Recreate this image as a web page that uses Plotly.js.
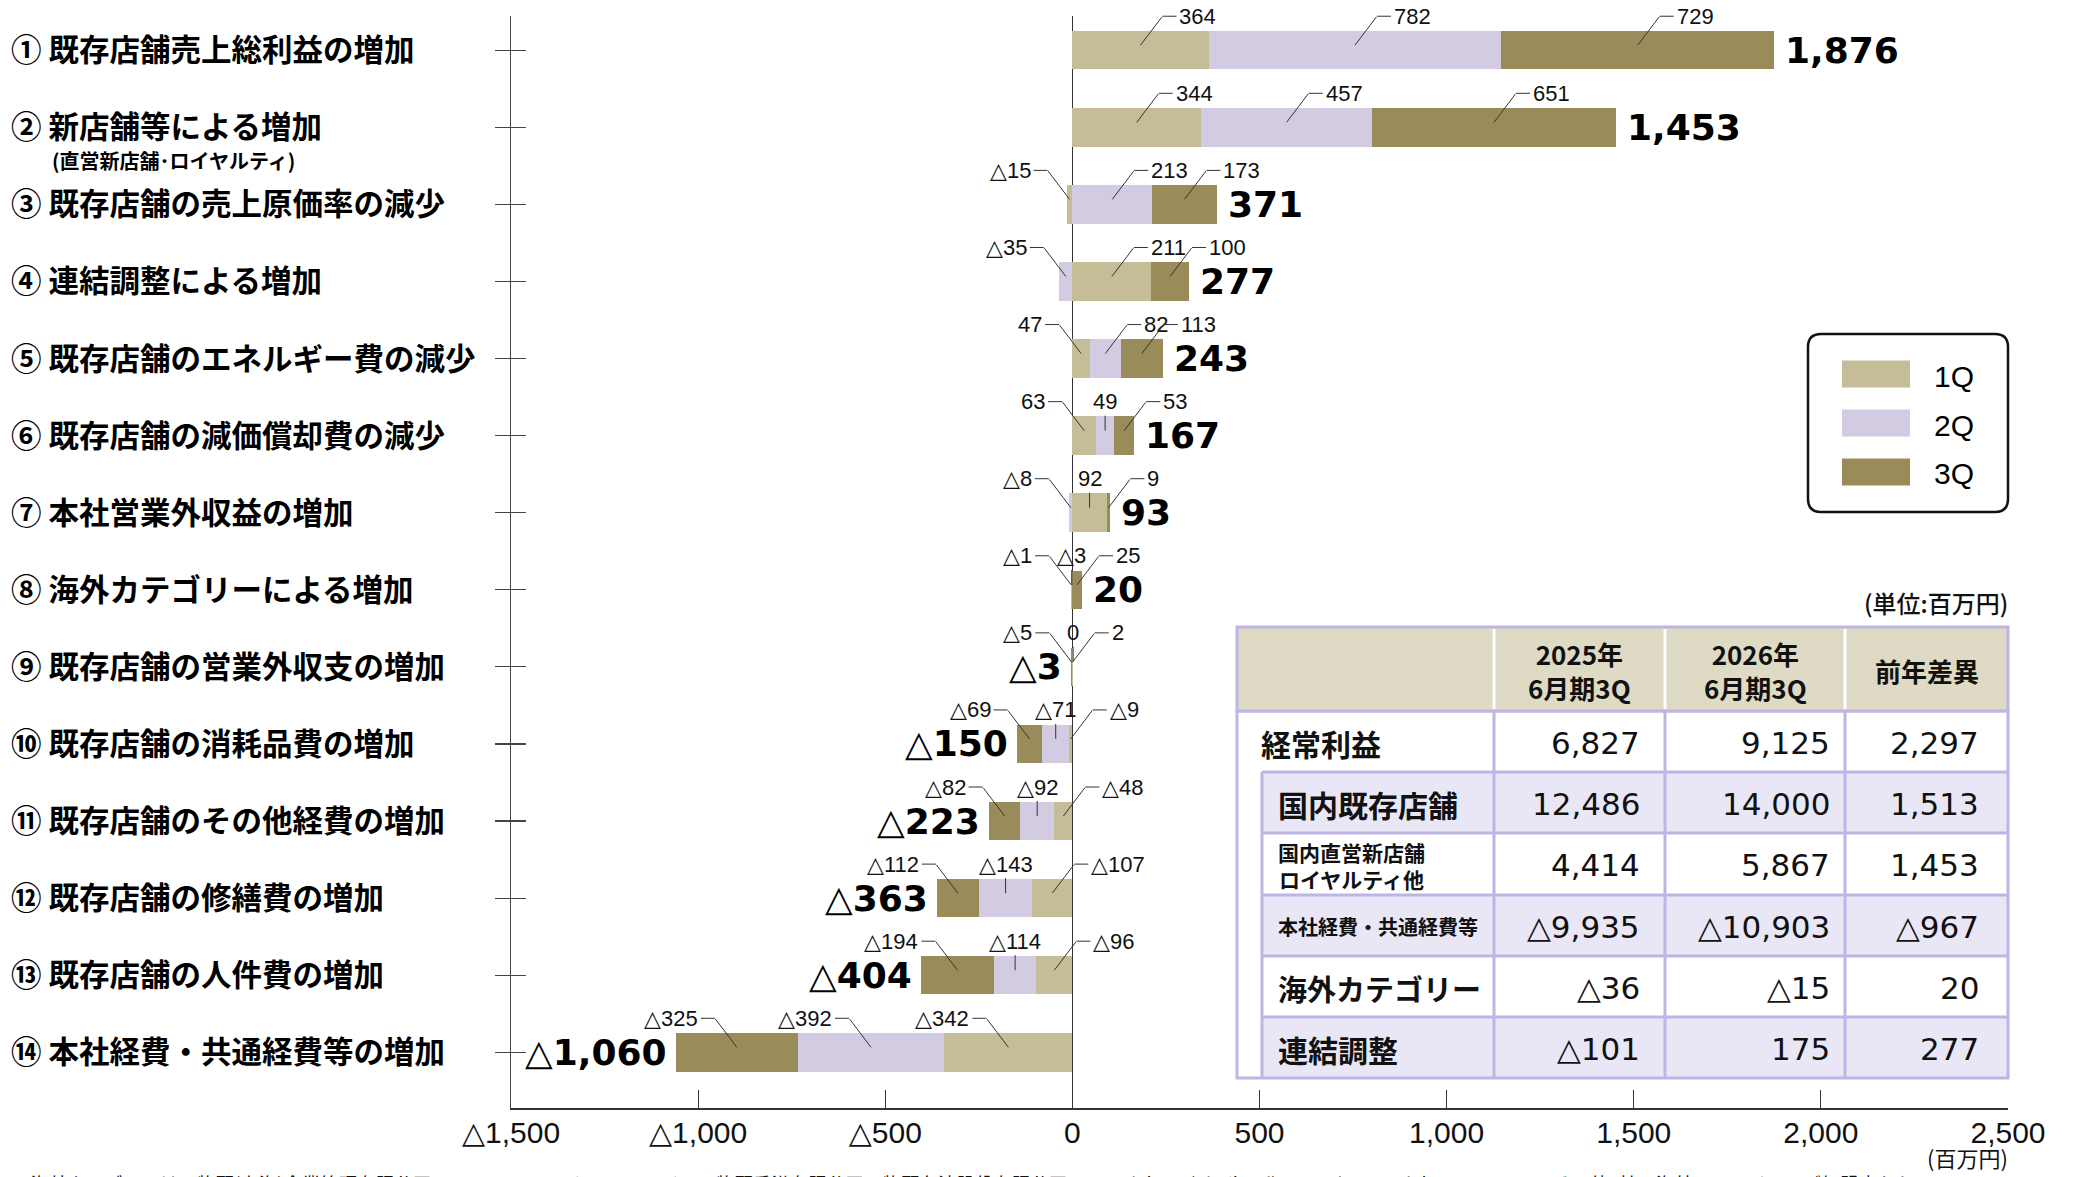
<!DOCTYPE html>
<html><head><meta charset="utf-8">
<script src="https://cdn.plot.ly/plotly-3.0.1.min.js"></script>
<style>html,body{margin:0;padding:0;background:#fff;}#chart{width:2073px;height:1177px;}</style>
</head><body><div id="chart"></div>
<script>
// ---------- DATA ----------
const categories = [
  '① 既存店舗売上総利益の増加',
  '② 新店舗等による増加',
  '③ 既存店舗の売上原価率の減少',
  '④ 連結調整による増加',
  '⑤ 既存店舗のエネルギー費の減少',
  '⑥ 既存店舗の減価償却費の減少',
  '⑦ 本社営業外収益の増加',
  '⑧ 海外カテゴリーによる増加',
  '⑨ 既存店舗の営業外収支の増加',
  '⑩ 既存店舗の消耗品費の増加',
  '⑪ 既存店舗のその他経費の増加',
  '⑫ 既存店舗の修繕費の増加',
  '⑬ 既存店舗の人件費の増加',
  '⑭ 本社経費・共通経費等の増加'
];
const categoryNotes = ['', '(直営新店舗･ロイヤルティ)', '', '', '', '', '', '', '', '', '', '', '', ''];
const seriesNames = ['1Q', '2Q', '3Q'];
const q1 = [364, 344, -15, 211, 47, 63, 92, -3, 2, -9, -48, -107, -96, -342];
const q2 = [782, 457, 213, -35, 82, 49, -8, -1, 0, -71, -92, -143, -114, -392];
const q3 = [729, 651, 173, 100, 113, 53, 9, 25, -5, -69, -82, -112, -194, -325];
const totals = [1876, 1453, 371, 277, 243, 167, 93, 20, -3, -150, -223, -363, -404, -1060];
const xTickValues = [-1500, -1000, -500, 0, 500, 1000, 1500, 2000, 2500];
const xTickLabels = ['△1,500', '△1,000', '△500', '0', '500', '1,000', '1,500', '2,000', '2,500'];
const xUnitLabel = '(百万円)';
const tableUnit = '(単位:百万円)';
const tableHeader = ['2025年<br>6月期3Q', '2026年<br>6月期3Q', '前年差異'];
const tableRowLabels = ['経常利益', '国内既存店舗', '国内直営新店舗<br>ロイヤルティ他', '本社経費・共通経費等', '海外カテゴリー', '連結調整'];
const table2025 = [6827, 12486, 4414, -9935, -36, -101];
const table2026 = [9125, 14000, 5867, -10903, -15, 175];
const tableDiff = [2297, 1513, 1453, -967, 20, 277];
const footnote = '※海外カテゴリーは、牧野(上海)企業管理有限公司、PT Amanoya Nippon Sangiya、牧野香港有限公司、牧野台湾股份有限公司、Standalone (Thailand) Co.,Ltd、Standalone USA Inc.、その他3社、海外フランチャイズ加盟店からの';

// ---------- STYLE / PLACEMENT ----------
const colors = ['#c5bd98', '#d3cbe2', '#9a8c5a'];
// leader side per quarter (L = label left, C = above, R = label right)
const leaderSides = ['RRR','RRR','LRR','RLR','LRR','LCR','CLR','CLR','RCL','RCL','RCL','RCL','RCL','LLL'];
const W = 2073, H = 1177, L = 511, R = 2008, T = 16, B = 1108;
const px2x = X => (X - L) / (R - L);
const px2y = Y => (B - Y) / (B - T);
const fmt = v => (v < 0 ? '△' : '') + Math.abs(v).toLocaleString('en-US');
const numFont = 'Liberation Sans, DejaVu Sans, sans-serif';
const cjk = 'Noto Sans CJK JP, sans-serif';
const leaderColor = '#333';

const series = [q1, q2, q3];
const yIdx = categories.map((_, i) => i);

const traces = series.map((vals, s) => ({
  type: 'bar', orientation: 'h', name: seriesNames[s],
  x: vals, y: yIdx, width: 0.5,
  marker: {color: colors[s], line: {width: 0}},
  showlegend: false, hoverinfo: 'skip'
}));
traces.push({type: 'scatter', x: [null], y: [null], yaxis: 'y2', showlegend: false, hoverinfo: 'skip'});

// stacking (relative mode) to find segment mid points / ends
const stacks = yIdx.map(i => {
  let pos = 0, neg = 0;
  const mids = series.map(vals => {
    const v = vals[i]; let st;
    if (v >= 0) { st = pos; pos += v; } else { st = neg; neg += v; }
    return st + v / 2;
  });
  return {mids, pos, neg};
});

const annotations = [];
const paperText = (X, Y, text, font, xanchor) => annotations.push({xref: 'paper', yref: 'paper',
  x: px2x(X), y: px2y(Y), xanchor: xanchor || 'center', yanchor: 'middle', showarrow: false, text, font});

const lblFont = {family: numFont, size: 22, color: '#111'};
yIdx.forEach(i => {
  series.forEach((vals, s) => {
    const side = leaderSides[i][s];
    const x = stacks[i].mids[s];
    const text = fmt(vals[i]);
    if (side === 'C') {
      annotations.push({x, y: i, xref: 'x', yref: 'y', yshift: 5, text, font: lblFont,
        showarrow: true, arrowhead: 0, arrowwidth: 1, arrowcolor: leaderColor, ax: 0, ay: -29, borderpad: 1});
    } else {
      const dir = side === 'R' ? 1 : -1;
      annotations.push({x, y: i, xref: 'x', yref: 'y', yshift: 5, text: ' ', font: {size: 1},
        borderpad: 0, showarrow: true, arrowhead: 0, arrowwidth: 1, arrowcolor: leaderColor, ax: 22 * dir, ay: -29});
      annotations.push({x, y: i, xref: 'x', yref: 'y', xshift: 22 * dir, yshift: 34, text, font: lblFont,
        showarrow: true, arrowhead: 0, arrowwidth: 1, arrowcolor: leaderColor, ax: 14 * dir, ay: 0,
        xanchor: dir > 0 ? 'left' : 'right', borderpad: 2});
    }
  });
  // total label
  const t = totals[i];
  annotations.push({x: t >= 0 ? stacks[i].pos : stacks[i].neg, y: i, xref: 'x', yref: 'y',
    xanchor: t >= 0 ? 'left' : 'right', yanchor: 'middle', xshift: t >= 0 ? 9 : -7, showarrow: false, text: fmt(t),
    font: {family: 'DejaVu Sans, sans-serif', size: 36, weight: 700, color: '#000'}});
  // category label
  annotations.push({xref: 'paper', yref: 'y', x: px2x(9), y: i, yshift: 2, xanchor: 'left', yanchor: 'middle', showarrow: false,
    text: categories[i], font: {family: cjk, size: 30.5, weight: 700, color: '#000'}});
  if (categoryNotes[i]) {
    annotations.push({xref: 'paper', yref: 'y', x: px2x(50), y: i, yshift: -33, xanchor: 'left', yanchor: 'middle', showarrow: false,
      text: categoryNotes[i], font: {family: cjk, size: 20, weight: 700, color: '#000'}});
  }
});

// x unit
paperText(1967, 1157, xUnitLabel, {family: cjk, size: 22, color: '#111'});
// footnote (cut off at the bottom like the source)
paperText(10, 1183, footnote, {family: cjk, size: 18.5, color: '#111'}, 'left');

const shapes = [];
// ---------- custom legend ----------
(function () {
  const x0 = px2x(1808), x1 = px2x(2008), yTop = px2y(334), yBot = px2y(512);
  const rx = 13 / (R - L), ry = 13 / (B - T);
  shapes.push({type: 'path', xref: 'paper', yref: 'paper', line: {color: '#111', width: 2.5}, fillcolor: 'rgba(0,0,0,0)',
    path: `M${x0 + rx},${yTop} L${x1 - rx},${yTop} Q${x1},${yTop} ${x1},${yTop - ry} L${x1},${yBot + ry} Q${x1},${yBot} ${x1 - rx},${yBot} L${x0 + rx},${yBot} Q${x0},${yBot} ${x0},${yBot + ry} L${x0},${yTop - ry} Q${x0},${yTop} ${x0 + rx},${yTop} Z`});
  const rowsY = [374, 423, 472];
  seriesNames.forEach((n, s) => {
    shapes.push({type: 'rect', xref: 'paper', yref: 'paper', x0: px2x(1842), x1: px2x(1910),
      y0: px2y(rowsY[s] - 13.5), y1: px2y(rowsY[s] + 13.5), fillcolor: colors[s], line: {width: 0}});
    paperText(1932, rowsY[s] + 2, n, {family: numFont, size: 30, color: '#000'}, 'left');
  });
})();

// ---------- table ----------
(function () {
  const border = '#bdb5e6', lw = 3;
  const X = [1237, 1262, 1494, 1665, 1845, 2008];
  const Y = [627, 711, 772, 833, 895, 956, 1017, 1078];
  const rect = (xa, xb, ya, yb, fill, line) => shapes.push({type: 'rect', xref: 'paper', yref: 'paper',
    x0: px2x(xa), x1: px2x(xb), y0: px2y(yb), y1: px2y(ya), fillcolor: fill, line: line || {width: 0}, layer: 'above'});
  const seg = (xa, ya, xb, yb, color, w) => shapes.push({type: 'line', xref: 'paper', yref: 'paper',
    x0: px2x(xa), x1: px2x(xb), y0: px2y(ya), y1: px2y(yb), line: {color, width: w}, layer: 'above'});
  // body
  rect(X[0], X[5], Y[1], Y[7], '#ffffff');
  tableRowLabels.forEach((_, r) => { if (r % 2 === 1) rect(X[1], X[5], Y[r + 1], Y[r + 2], '#e9e7f6'); });
  for (let r = 2; r <= 6; r++) seg(X[1], Y[r], X[5], Y[r], border, lw);
  seg(X[1], Y[2], X[1], Y[7], border, lw);
  [X[2], X[3], X[4]].forEach(x => seg(x, Y[1], x, Y[7], border, lw));
  rect(X[0], X[5], Y[1], Y[7], 'rgba(0,0,0,0)', {color: border, width: lw});
  // header
  rect(X[0], X[5], Y[0], Y[1], '#dedac4', {color: border, width: lw});
  [X[2], X[3], X[4]].forEach(x => seg(x, Y[0] + 2, x, Y[1] - 2, '#ffffff', 3));
  tableHeader.forEach((h, c) => {
    const cx = (X[c + 2] + X[c + 3]) / 2;
    paperText(cx, (Y[0] + Y[1]) / 2 + 1, h, {family: cjk, size: 26, weight: 700, color: '#111'});
  });
  // rows
  const labelSizes = [30, 30, 21, 20, 29, 30];
  const numCols = [table2025, table2026, tableDiff];
  const numRight = [1642, 1832, 1981];
  tableRowLabels.forEach((lab, r) => {
    const yc = (Y[r + 1] + Y[r + 2]) / 2;
    const lx = r === 0 ? 1259 : 1276;
    paperText(lx, yc + 1, lab, {family: cjk, size: labelSizes[r], weight: 700, color: '#111'}, 'left');
    numCols.forEach((col, c) => {
      paperText(numRight[c], yc + 1, fmt(col[r]), {family: 'DejaVu Sans, sans-serif', size: 31, color: '#111'}, 'right');
    });
  });
  paperText(2010, 602, tableUnit, {family: cjk, size: 24, weight: 500, color: '#111'}, 'right');
})();

const layout = {
  width: W, height: H,
  margin: {l: L, r: W - R, t: T, b: H - B, pad: 0},
  paper_bgcolor: '#ffffff', plot_bgcolor: '#ffffff',
  barmode: 'relative', bargap: 0, showlegend: false,
  font: {family: numFont, color: '#000'},
  xaxis: {range: [-1500, 2500], tickmode: 'array', tickvals: xTickValues, ticktext: xTickLabels,
    ticks: 'inside', ticklen: 18, tickwidth: 1.2, tickcolor: '#333', showline: true, linecolor: '#333', linewidth: 1.5,
    zeroline: true, zerolinecolor: '#333', zerolinewidth: 1.2, showgrid: false, layer: 'above traces',
    tickfont: {family: numFont, size: 30, color: '#111'}, ticklabelstandoff: -3, fixedrange: true},
  yaxis: {range: [13.723, -0.444], tickmode: 'array', tickvals: yIdx, ticks: 'outside', ticklen: 15, tickwidth: 1.2,
    tickcolor: '#444', showticklabels: false, showline: true, linecolor: '#444', linewidth: 1.2,
    zeroline: false, showgrid: false, fixedrange: true},
  yaxis2: {overlaying: 'y', anchor: 'x', side: 'left', range: [13.723, -0.444], tickmode: 'array', tickvals: yIdx,
    ticks: 'inside', ticklen: 15, tickwidth: 1.2, tickcolor: '#444', showticklabels: false, showline: false,
    zeroline: false, showgrid: false, fixedrange: true},
  shapes, annotations
};

Plotly.newPlot('chart', traces, layout, {displayModeBar: false, staticPlot: true});
</script>
</body></html>
